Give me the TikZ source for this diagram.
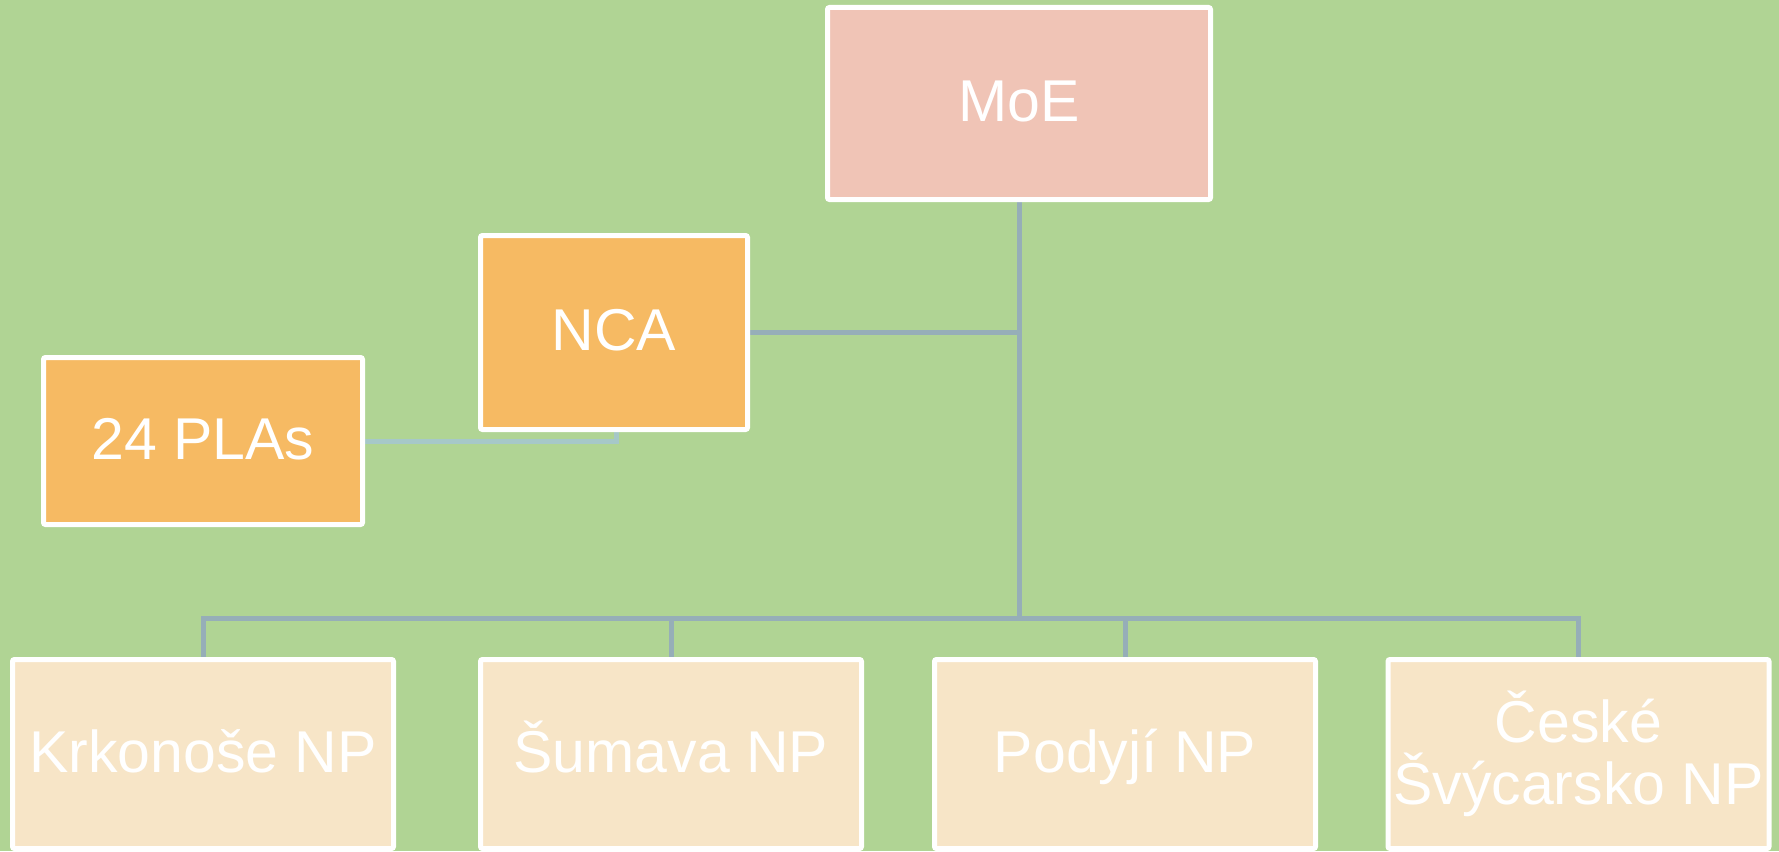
\documentclass[tikz,border=0pt]{standalone}
\usepackage{fontspec}
\setmainfont{Liberation Sans}
\definecolor{bg}{HTML}{B0D494}
\definecolor{moefill}{HTML}{F0C4B6}
\definecolor{ncafill}{HTML}{F6BA63}
\definecolor{npfill}{HTML}{F7E5C7}
\definecolor{conn}{HTML}{96AEB8}
\definecolor{connlight}{HTML}{A6C8C8}
\tikzset{
  box/.style={draw=white, line width=5pt, rounded corners=2pt, inner sep=0pt,
    text=white, align=center, font=\fontsize{59}{62}\selectfont},
  oneline/.style={text height=42pt, text depth=6pt},
  topbox/.style={box, oneline, fill=moefill, minimum width=383pt, minimum height=192pt},
  ncabox/.style={box, oneline, fill=ncafill, minimum width=267pt, minimum height=194pt},
  plabox/.style={box, oneline, fill=ncafill, minimum width=319pt, minimum height=167pt},
  npbox/.style={box, fill=npfill, minimum width=381pt, minimum height=189pt},
  link/.style={draw=conn, line width=5pt},
  linklight/.style={draw=connlight, line width=5pt}
}
\begin{document}
\begin{tikzpicture}[x=1pt,y=-1pt]
\useasboundingbox (0,0) rectangle (1779,851);
\fill[bg] (0,0) rectangle (1779,851);
% connectors first
\coordinate (bus) at (1019,618);
\coordinate (top) at (1019,200);
\coordinate (ncar) at (750,332);
\coordinate (ncab) at (616,430);
\coordinate (plar) at (364,441);
\draw[link] (top) -- (bus);
\draw[link] (ncar) -- (ncar -| top);
\draw[linklight] (ncab) |- (plar);
\draw[link] (203,660) |- (1578,618) -- (1578,660);
\draw[link] (671,618) -- (671,660);
\draw[link] (1125,618) -- (1125,660);
% nodes
\node[topbox] (moe) at (1019,103.5) {MoE};
\node[ncabox] (nca) at (614,332.5) {NCA};
\node[plabox] (pla) at (203,441) {24 PLAs};
\node[npbox, oneline] (b1) at (203,754) {Krkonoše NP};
\node[npbox, oneline] (b2) at (671,754) {Šumava NP};
\node[npbox, oneline] (b3) at (1125,754) {Podyjí NP};
\node[npbox] (b4) at (1578.5,754) {České\\Švýcarsko NP};
\end{tikzpicture}
\end{document}
